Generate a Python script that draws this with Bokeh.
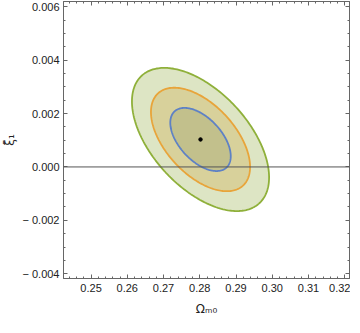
import numpy as np
from bokeh.plotting import figure
from bokeh.models import (Range1d, LinearAxis, SingleIntervalTicker,
                          CustomJSTickFormatter, Span, ColumnDataSource)
from bokeh.embed import file_html
from bokeh.resources import INLINE

# ---- data ----
best_fit_om = 0.2802          # Omega_m0 at best fit
best_fit_xi = 0.00103         # xi_1 at best fit
sigma_om = 0.0055
sigma_xi = 0.00078
corr = -0.53
delta_chi2 = [11.83, 6.18, 2.30]          # 3 sigma, 2 sigma, 1 sigma (2 params)
fill_colors = ["#dde5c4", "#d8d19b", "#c2c08c"]
line_colors = ["#8fb03a", "#e8a43a", "#5e81c5"]
x_range = (0.2424, 0.3213)
y_range = (-0.00418, 0.0062)
x_tick_step = 0.01
y_tick_step = 0.002
zero_line = 0.0

# ---- figure ----
p = figure(frame_width=286, frame_height=277, output_backend="svg",
           toolbar_location=None,
           x_range=Range1d(*x_range), y_range=Range1d(*y_range),
           min_border_top=1, min_border_right=1, min_border_left=59,
           min_border_bottom=39, background_fill_color="white",
           border_fill_color="white")
p.xgrid.visible = False
p.ygrid.visible = False
p.outline_line_color = "#666666"

frame_col = "#666666"
txt_col = "#222222"
font = "Liberation Sans"

# ellipses from covariance (Cholesky factor)
cov = np.array([[sigma_om**2, corr*sigma_om*sigma_xi],
                [corr*sigma_om*sigma_xi, sigma_xi**2]])
L = np.linalg.cholesky(cov)
t = np.linspace(0, 2*np.pi, 240)
circle = np.vstack([np.cos(t), np.sin(t)])
for d, fc, lc in zip(delta_chi2, fill_colors, line_colors):
    pts = L @ circle * np.sqrt(d)
    src = ColumnDataSource(dict(x=best_fit_om + pts[0], y=best_fit_xi + pts[1]))
    p.patch("x", "y", source=src, fill_color=fc, line_color=lc, line_width=1.8)

p.add_layout(Span(location=zero_line, dimension="width", line_color="#555555",
                  line_width=1))
p.scatter([best_fit_om], [best_fit_xi], size=3.5, color="black")

x_fmt = CustomJSTickFormatter(code="return tick.toFixed(2);")
y_fmt = CustomJSTickFormatter(
    code="return tick < -1e-12 ? '\u2212 ' + Math.abs(tick).toFixed(3) : Math.abs(tick).toFixed(3);")
blank = CustomJSTickFormatter(code="return '';")


def style(ax, labels=True):
    ax.axis_line_color = frame_col
    ax.major_tick_line_color = frame_col
    ax.minor_tick_line_color = frame_col
    ax.major_tick_in = 4
    ax.major_tick_out = 0
    ax.minor_tick_in = 2
    ax.minor_tick_out = 0
    ax.major_label_text_font = font
    ax.major_label_text_font_size = "11px"
    ax.major_label_text_color = txt_col
    if not labels:
        ax.formatter = blank
        ax.major_label_standoff = 0
        ax.major_label_text_font_size = "1px"


xa = p.xaxis[0]
xa.ticker = SingleIntervalTicker(interval=x_tick_step, num_minor_ticks=5)
xa.formatter = x_fmt
style(xa)
xa.major_label_standoff = 5
xa.axis_label = "Ωₘ₀"
xa.axis_label_standoff = 7
xa.axis_label_text_font = "DejaVu Sans"
xa.axis_label_text_font_style = "normal"
xa.axis_label_text_font_size = "12px"
xa.axis_label_text_color = txt_col

ya = p.yaxis[0]
ya.ticker = SingleIntervalTicker(interval=y_tick_step, num_minor_ticks=4)
ya.formatter = y_fmt
style(ya)
ya.major_label_standoff = 4
ya.axis_label = "ξ̄₁"
ya.axis_label_standoff = 2
ya.axis_label_text_font = "DejaVu Sans"
ya.axis_label_text_font_style = "normal"
ya.axis_label_text_font_size = "12px"
ya.axis_label_text_color = txt_col

top = LinearAxis(ticker=SingleIntervalTicker(interval=x_tick_step, num_minor_ticks=5))
style(top, labels=False)
p.add_layout(top, "above")
right = LinearAxis(ticker=SingleIntervalTicker(interval=y_tick_step, num_minor_ticks=4))
style(right, labels=False)
p.add_layout(right, "right")

open("out.html", "w").write(file_html(p, INLINE))
